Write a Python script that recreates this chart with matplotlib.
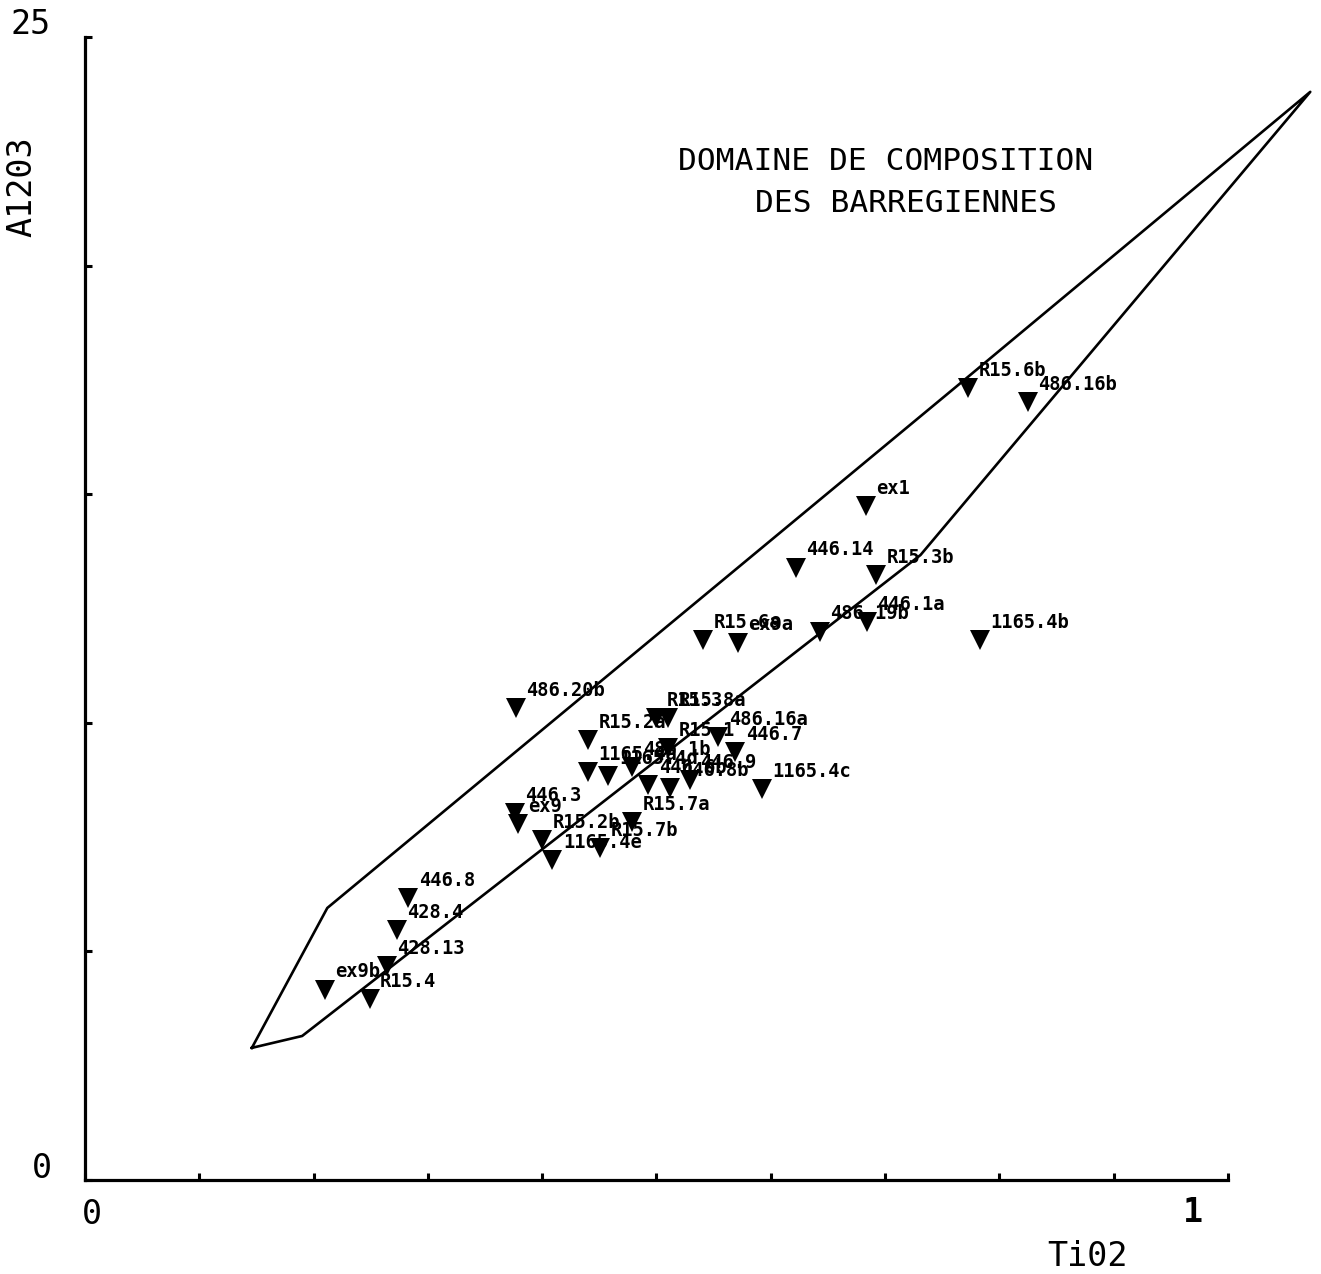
import matplotlib
matplotlib.use("Agg")
import matplotlib.pyplot as plt

# ---- data ----
labels = ["R15.6b", "486.16b", "ex1", "446.14", "R15.3b", "R15.6a", "ex9a",
          "486.19b", "446.1a", "1165.4b", "486.20b", "R15.3", "R15.8a",
          "R15.2a", "486.16a", "R15.1", "446.7", "1165.4a", "1165.4d",
          "486.1b", "446.6b", "446.8b", "446.9", "1165.4c", "446.3", "ex9",
          "R15.2b", "1165.4e", "R15.7b", "R15.7a", "446.8", "428.4",
          "428.13", "R15.4", "ex9b"]
tio2 = [0.7725, 0.825, 0.683, 0.622, 0.692, 0.541, 0.571,
        0.643, 0.684, 0.783, 0.377, 0.500, 0.510,
        0.440, 0.554, 0.510, 0.569, 0.440, 0.458,
        0.479, 0.493, 0.512, 0.529, 0.592, 0.376, 0.379,
        0.400, 0.409, 0.451, 0.479, 0.283, 0.273,
        0.264, 0.249, 0.210]
al2o3 = [17.32, 17.02, 14.74, 13.39, 13.23, 11.81, 11.75,
         11.99, 12.20, 11.81, 10.32, 10.10, 10.10,
         9.62, 9.69, 9.45, 9.36, 8.92, 8.84,
         9.03, 8.64, 8.57, 8.75, 8.55, 8.03, 7.79,
         7.44, 7.00, 7.26, 7.83, 6.17, 5.47,
         4.68, 3.96, 4.16]

domain_x = [0.146, 0.190, 0.731, 1.072, 0.766, 0.212, 0.146]
domain_y = [2.89, 3.15, 13.67, 23.80, 17.43, 5.95, 2.89]

x_ticks = [0.1 * i for i in range(11)]
y_ticks = [0, 5, 10, 15, 20, 25]

W, H = 1321, 1274
fig = plt.figure(figsize=(W / 100, H / 100), dpi=100)
fig.patch.set_facecolor("white")

def fx(px):
    return px / W

def fy(py):
    return 1 - py / H

ax = fig.add_axes([fx(85), fy(1180), (1319.4 - 85) / W, (1180 - 37) / H])
ax.set_xlim(0, 1.08)
ax.set_ylim(0, 25)
ax.set_facecolor("none")

for s in ["top", "right"]:
    ax.spines[s].set_visible(False)
ax.spines["bottom"].set_bounds(0, 1.0)
ax.spines["left"].set_bounds(0, 25)
for s in ["bottom", "left"]:
    ax.spines[s].set_linewidth(2.3)
    ax.spines[s].set_color("black")

ax.set_xticks(x_ticks)
ax.set_yticks(y_ticks)
ax.tick_params(axis="both", direction="in", length=5, width=2.2,
               color="black", labelbottom=False, labelleft=False, pad=0)

# composition domain
ax.plot(domain_x, domain_y, color="black", lw=1.9, solid_joinstyle="round",
        clip_on=False, zorder=2)

# samples
ax.plot(tio2, al2o3, linestyle="none", marker="v", ms=14, color="black",
        markeredgewidth=0, clip_on=False, zorder=3)
for x, y, lab in zip(tio2, al2o3, labels):
    ax.annotate(lab, (x, y), xytext=(7.5, 6.0), textcoords="offset points",
                ha="left", va="bottom", fontsize=13.5, fontweight="bold",
                family="DejaVu Sans Mono", color="black", zorder=4)

mono = "DejaVu Sans Mono"
# tick labels and axis titles
fig.text(fx(92), fy(1215), "0", ha="center", va="center", fontsize=24, family=mono)
fig.text(fx(1193), fy(1212), "1", ha="center", va="center", fontsize=24,
         family=mono, fontweight="bold")
fig.text(fx(42), fy(1168), "0", ha="center", va="center", fontsize=24, family=mono)
fig.text(fx(31), fy(25), "25", ha="center", va="center", fontsize=24, family=mono)
fig.text(fx(22), fy(187), "A1203", ha="center", va="center", fontsize=24,
         family=mono, rotation=90)
fig.text(fx(1087), fy(1256), "Ti02", ha="center", va="center", fontsize=24, family=mono)

# annotation of the domain
fig.text(fx(886), fy(162), "DOMAINE DE COMPOSITION", ha="center", va="center",
         fontsize=22.5, family=mono)
fig.text(fx(906), fy(203), "DES BARREGIENNES", ha="center", va="center",
         fontsize=22.5, family=mono)

fig.savefig("out.png", dpi=100, facecolor="white")
